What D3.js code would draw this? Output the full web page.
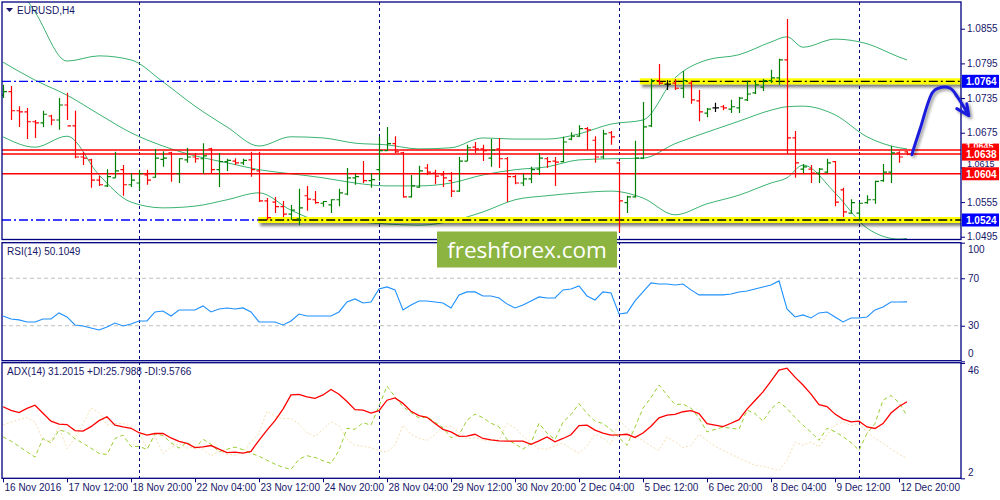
<!DOCTYPE html>
<html><head><meta charset="utf-8">
<script src="https://cdn.jsdelivr.net/npm/d3@7"></script>
<style>
body{margin:0;background:#fff;}
svg{display:block;font-family:"Liberation Sans",Arial,sans-serif;}
</style>
</head><body>
<svg id="c" width="1000" height="500"></svg>
<script>
// ---------------- DATA ----------------
const symbolLabel = "EURUSD,H4";
const rsiLabel = "RSI(14) 50.1049";
const adxLabel = "ADX(14) 31.2015 +DI:25.7988 -DI:9.5766";
const watermark = "freshforex.com";

const tickIdx = [0,8,16,24,32,40,48,56,64,72,80,88,96,104,112];
const tickLabels = ["16 Nov 2016","17 Nov 12:00","18 Nov 20:00","22 Nov 04:00","23 Nov 12:00","24 Nov 20:00","28 Nov 04:00","29 Nov 12:00","30 Nov 20:00","2 Dec 04:00","5 Dec 12:00","6 Dec 20:00","8 Dec 04:00","9 Dec 12:00","12 Dec 20:00"];
const weekSeparators = [17,47,77,107];

const priceTicks = [1.0855,1.0795,1.0735,1.0675,1.0615,1.0555,1.0495];
const rsiTicks = [100,70,30,0];
const rsiLevels = [70,30];
const adxTicks = [46,2];

const open = [1.0740,1.0746,1.0713,1.0711,1.0694,1.0692,1.0704,1.0697,1.0723,1.0687,
1.0633,1.0628,1.0593,1.0583,1.0597,1.0611,1.0585,1.0588,1.0602,1.0598,
1.0629,1.0640,1.0604,1.0628,1.0633,1.0630,1.0647,1.0611,1.0625,1.0626,
1.0623,1.0628,1.0609,1.0557,1.0555,1.0547,1.0534,1.0526,1.0566,1.0559,
1.0553,1.0550,1.0559,1.0569,1.0597,1.0604,1.0592,1.0611,1.0644,1.0656,
1.0640,1.0564,1.0581,1.0614,1.0605,1.0602,1.0592,1.0574,1.0626,1.0650,
1.0647,1.0631,1.0647,1.0630,1.0599,1.0588,1.0595,1.0612,1.0630,1.0626,
1.0625,1.0664,1.0669,1.0682,1.0662,1.0633,1.0675,1.0623,1.0554,1.0564,
1.0631,1.0687,1.0765,1.0759,1.0761,1.0752,1.0761,1.0730,1.0709,1.0718,
1.0720,1.0716,1.0718,1.0732,1.0744,1.0754,1.0765,1.0770,1.0801,1.0666,
1.0612,1.0612,1.0605,1.0607,1.0625,1.0576,1.0536,1.0536,1.0554,1.0559,
1.0592,1.0607,1.0640,1.0642];
const high = [1.0758,1.0756,1.0721,1.0718,1.0697,1.0713,1.0706,1.0735,1.0744,1.0713,
1.0642,1.0630,1.0600,1.0612,1.0642,1.0619,1.0605,1.0611,1.0611,1.0647,
1.0643,1.0642,1.0631,1.0649,1.0640,1.0657,1.0649,1.0640,1.0630,1.0631,
1.0630,1.0642,1.0642,1.0562,1.0564,1.0557,1.0550,1.0578,1.0583,1.0574,
1.0557,1.0560,1.0578,1.0614,1.0604,1.0626,1.0605,1.0668,1.0685,1.0669,
1.0642,1.0602,1.0618,1.0621,1.0611,1.0609,1.0607,1.0633,1.0654,1.0659,
1.0654,1.0664,1.0666,1.0633,1.0602,1.0604,1.0616,1.0640,1.0633,1.0633,
1.0668,1.0676,1.0688,1.0685,1.0669,1.0680,1.0678,1.0625,1.0566,1.0661,
1.0728,1.0768,1.0794,1.0766,1.0768,1.0782,1.0765,1.0749,1.0718,1.0727,
1.0723,1.0732,1.0737,1.0765,1.0766,1.0768,1.0784,1.0803,1.0872,1.0678,
1.0621,1.0619,1.0614,1.0630,1.0626,1.0580,1.0560,1.0554,1.0567,1.0592,
1.0621,1.0652,1.0643,1.0643];
const low = [1.0735,1.0697,1.0685,1.0664,1.0666,1.0685,1.0688,1.0680,1.0697,1.0631,
1.0619,1.0580,1.0583,1.0581,1.0597,1.0566,1.0581,1.0576,1.0585,1.0597,
1.0616,1.0590,1.0588,1.0623,1.0623,1.0604,1.0604,1.0581,1.0609,1.0619,
1.0619,1.0599,1.0555,1.0524,1.0536,1.0529,1.0524,1.0515,1.0540,1.0552,
1.0547,1.0536,1.0548,1.0567,1.0585,1.0588,1.0580,1.0592,1.0644,1.0640,
1.0563,1.0563,1.0580,1.0602,1.0586,1.0581,1.0564,1.0573,1.0626,1.0640,
1.0626,1.0616,1.0614,1.0555,1.0586,1.0583,1.0588,1.0602,1.0614,1.0583,
1.0624,1.0662,1.0668,1.0645,1.0623,1.0630,1.0654,1.0503,1.0536,1.0563,
1.0630,1.0685,1.0758,1.0749,1.0749,1.0735,1.0725,1.0695,1.0702,1.0711,
1.0714,1.0709,1.0709,1.0730,1.0742,1.0747,1.0761,1.0758,1.0638,1.0597,
1.0605,1.0588,1.0588,1.0605,1.0548,1.0529,1.0535,1.0522,1.0552,1.0552,
1.0590,1.0588,1.0623,1.0636];
const close = [1.0746,1.0713,1.0711,1.0694,1.0692,1.0707,1.0697,1.0723,1.0687,1.0633,
1.0631,1.0593,1.0585,1.0599,1.0609,1.0585,1.0593,1.0604,1.0593,1.0631,
1.0631,1.0604,1.0630,1.0633,1.0630,1.0635,1.0611,1.0625,1.0627,1.0623,
1.0627,1.0611,1.0557,1.0528,1.0547,1.0534,1.0541,1.0545,1.0560,1.0554,
1.0556,1.0559,1.0571,1.0597,1.0599,1.0592,1.0594,1.0644,1.0656,1.0642,
1.0564,1.0583,1.0609,1.0607,1.0600,1.0597,1.0574,1.0626,1.0649,1.0647,
1.0644,1.0645,1.0630,1.0599,1.0588,1.0595,1.0611,1.0631,1.0625,1.0624,
1.0659,1.0669,1.0682,1.0680,1.0633,1.0673,1.0668,1.0557,1.0564,1.0631,
1.0685,1.0765,1.0761,1.0759,1.0752,1.0765,1.0732,1.0711,1.0716,1.0718,
1.0718,1.0720,1.0735,1.0742,1.0758,1.0765,1.0770,1.0801,1.0666,1.0623,
1.0616,1.0605,1.0612,1.0623,1.0555,1.0538,1.0554,1.0553,1.0559,1.0591,
1.0607,1.0640,1.0633,1.0638];

// Bollinger bands at these bar indices
const bbIdx = [0,4,8,12,16,20,24,28,32,36,40,44,48,52,56,60,64,68,72,76,80,84,88,92,96,98,100,104,108,112,113];
const bbUpper = [1.0967,1.0884,1.0799,1.0808,1.0801,1.0763,1.0721,1.0685,1.0652,1.0668,1.0666,1.0657,1.0654,1.0647,1.0649,1.0666,1.0664,1.0664,1.0673,1.0690,1.0697,1.0770,1.0801,1.0810,1.0832,1.0841,1.0823,1.0837,1.0829,1.0806,1.0801];
const bbMiddle = [1.0797,1.0766,1.0740,1.0707,1.0675,1.0652,1.0635,1.0623,1.0611,1.0604,1.0597,1.0588,1.0583,1.0583,1.0588,1.0602,1.0611,1.0616,1.0628,1.0630,1.0631,1.0656,1.0676,1.0695,1.0714,1.0720,1.0721,1.0706,1.0668,1.0649,1.0647];
const bbLower = [1.0668,1.0650,1.0669,1.0602,1.0555,1.0545,1.0548,1.0559,1.0571,1.0541,1.0522,1.0521,1.0517,1.0515,1.0522,1.0538,1.0559,1.0566,1.0571,1.0574,1.0562,1.0533,1.0552,1.0567,1.0588,1.0597,1.0619,1.0571,1.0510,1.0491,1.0492];

const rsi = [38.2,35.7,34.9,33.2,33.2,35.7,35.7,40.8,37.4,30.6,
29.8,28.1,26.4,28.9,32.3,29.8,31.5,34.0,34.0,41.6,
42.4,38.2,43.3,43.3,43.3,46.7,41.6,44.1,45.0,44.1,
45.0,41.6,33.2,33.2,33.2,30.6,34.0,39.9,38.2,38.2,
38.2,38.2,41.6,50.0,52.6,49.2,50.0,61.0,62.7,60.2,
43.3,47.5,50.9,50.9,50.0,49.2,45.0,56.0,58.5,58.5,
55.1,55.1,53.4,48.4,45.0,47.5,50.9,54.3,53.4,53.4,
60.2,61.0,63.5,55.1,51.7,58.5,57.6,39.9,40.8,50.9,
58.5,66.1,65.2,65.2,64.4,65.2,60.2,56.0,56.0,56.0,
56.0,56.8,58.5,59.3,61.0,62.7,64.4,67.8,44.1,37.4,
39.1,36.5,40.8,41.6,37.4,33.2,36.5,36.5,37.4,43.3,
45.8,50.0,50.0,50.1];

const adx = [29.3,27.9,27.1,28.7,29.9,26.8,23.8,22.7,22.5,20.2,
20.0,21.7,24.0,25.5,22.3,21.6,21.1,19.4,18.5,19.1,
19.1,17.4,16.1,15.3,13.7,14.0,14.5,13.1,11.8,12.0,
11.6,12.3,16.5,20.4,24.0,28.4,33.8,34.0,33.1,32.5,
33.8,35.9,34.1,31.3,28.2,28.0,26.9,27.8,31.8,32.7,
30.6,27.6,25.9,25.3,22.9,20.7,19.7,18.0,18.1,18.8,
17.2,16.7,16.3,16.2,16.2,16.2,15.0,16.3,17.8,15.9,
17.2,18.6,22.1,22.3,20.4,19.2,18.5,18.6,18.8,17.6,
19.3,21.9,25.1,26.1,26.4,27.4,27.8,26.7,22.9,22.3,
21.7,23.0,24.4,28.4,31.7,35.0,39.1,43.3,44.0,40.6,
37.6,34.1,30.1,29.4,26.5,24.6,23.5,23.8,21.6,21.0,
22.9,26.9,29.4,31.2];
const plusDI = [17.8,16.2,14.2,12.1,10.1,17.2,15.5,20.4,19.7,17.1,
15.4,13.5,11.5,11.1,17.2,18.5,14.1,14.2,13.0,19.0,
18.3,15.6,13.5,15.8,13.5,16.9,15.0,12.1,13.1,13.9,
12.9,11.6,10.4,8.9,7.4,6.2,5.4,9.3,10.6,10.0,
8.7,7.7,12.7,21.1,20.7,23.2,22.3,29.5,37.2,33.1,
29.3,27.1,25.0,25.5,23.4,21.3,17.5,18.5,24.2,26.5,
25.1,23.0,21.7,16.7,15.2,13.1,15.4,23.0,19.2,16.8,
23.4,26.3,30.5,26.8,23.8,22.9,20.6,17.5,14.6,21.5,
28.8,32.8,37.6,33.8,30.2,30.3,28.8,25.0,19.7,20.7,
21.5,21.1,20.7,28.0,26.7,23.8,28.4,31.1,28.7,25.2,
22.3,19.6,16.5,21.1,19.8,17.9,15.6,12.7,19.1,22.9,
31.8,33.6,30.9,25.8];
const minusDI = [22.3,23.4,24.4,25.2,23.5,16.5,16.5,21.5,13.3,17.3,
22.7,28.8,27.1,22.3,22.9,22.9,21.7,19.4,13.4,17.8,
11.5,13.9,15.2,13.5,13.9,13.1,10.6,12.3,11.2,10.8,
11.9,15.8,19.2,27.6,25.7,24.8,24.8,22.7,19.4,18.1,
20.6,23.6,22.0,16.9,14.6,14.2,13.7,12.5,12.1,14.6,
22.3,18.8,17.2,16.5,18.8,21.7,21.9,19.6,17.1,17.5,
16.5,16.5,16.7,22.9,21.3,18.1,15.4,13.3,13.1,14.4,
15.4,13.3,11.6,14.4,18.8,17.3,15.0,24.4,21.1,18.6,
16.3,14.3,12.7,17.8,15.9,13.7,14.5,18.8,16.5,14.2,
12.7,11.2,9.7,8.3,7.0,6.6,5.8,5.0,8.9,15.8,
14.6,15.9,13.9,18.5,22.3,23.5,22.1,22.9,19.7,17.2,
15.3,13.3,11.2,9.6];

// horizontal levels
const redLevels = [1.0645,1.0638,1.0604];
const redLabels = ["1.0645","1.0638","1.0604"];
const zoneLevels = [1.0764,1.0524];
const zoneLabels = ["1.0764","1.0524"];
const zoneStartIdx = [79.6,31.9];   // bar index where the yellow highlight starts
// forecast arrow path (bar index, price)
const arrowIdx = [113.6,114.6,116.2,116.9,118.4,119.3,120.6];
const arrowPrice = [1.0637,1.0680,1.0745,1.0752,1.0752,1.0737,1.0708];

// ---------------- CHART ----------------
const svg = d3.select("#c");
const navy = "#000080";
const txt = "#16166a";
const plotL = 2, plotR = 961;
const mainTop = 2, mainBot = 239.5, rsiTop = 242.7, rsiBot = 360.7, adxTop = 362.7, adxBot = 478.3;

const x = d3.scaleLinear().domain([0,113]).range([3,907]);
const yP = d3.scaleLinear().domain([1.0524,1.0764]).range([220,81.3]);
const yR = d3.scaleLinear().domain([0,100]).range([361.3,242.7]);
const yA = d3.scaleLinear().domain([2,46]).range([478.3,363]);

const defs = svg.append("defs");
[["cMain",mainTop,mainBot],["cRsi",rsiTop,rsiBot],["cAdx",adxTop,adxBot]].forEach(([id,t,b])=>{
  defs.append("clipPath").attr("id",id).append("rect")
    .attr("x",plotL).attr("y",t).attr("width",plotR-plotL).attr("height",b-t);
});
// value-box area clip (so the partly covered tick/box texts stay partly hidden)
const f1 = defs.append("filter").attr("id","shadow").attr("x","-5%").attr("y","-100%").attr("width","110%").attr("height","400%");
f1.append("feDropShadow").attr("dx",2).attr("dy",3).attr("stdDeviation",1.8).attr("flood-color","#000").attr("flood-opacity",0.5);
const f2 = defs.append("filter").attr("id","ashadow").attr("x","-30%").attr("y","-30%").attr("width","160%").attr("height","160%");
f2.append("feDropShadow").attr("dx",2).attr("dy",2).attr("stdDeviation",1.5).attr("flood-color","#000").attr("flood-opacity",0.4);

// week separators (all panels)
const sepG = svg.append("g");
sepG.selectAll("line").data(weekSeparators).join("line")
  .attr("x1",d=>Math.round(x(d))+0.5).attr("x2",d=>Math.round(x(d))+0.5)
  .attr("y1",mainTop).attr("y2",adxBot)
  .attr("stroke",navy).attr("stroke-width",1).attr("stroke-dasharray","3,3");

// ---- main panel ----
const main = svg.append("g").attr("clip-path","url(#cMain)");
const bbG = main.append("g");
[bbUpper,bbMiddle,bbLower].forEach(arr=>{
  bbG.append("path")
    .attr("d", d3.line().curve(d3.curveMonotoneX).x((d,i)=>x(bbIdx[i])).y(d=>yP(d))(arr))
    .attr("fill","none").attr("stroke","#3cb371").attr("stroke-width",1);
});

// red horizontal levels
main.selectAll("line.red").data(redLevels).join("line").attr("class","red")
  .attr("x1",plotL).attr("x2",plotR).attr("y1",d=>yP(d)).attr("y2",d=>yP(d))
  .attr("stroke","#ff0000").attr("stroke-width",1.5);

// zones: blue dash-dot then yellow highlighted part
zoneLevels.forEach((lv,i)=>{
  const yy = yP(lv), xs = x(zoneStartIdx[i]);
  main.append("line").attr("x1",plotL).attr("x2",xs).attr("y1",yy).attr("y2",yy)
    .attr("stroke","#0000ff").attr("stroke-width",1.3).attr("stroke-dasharray","9,3,2,3");
  main.append("rect").attr("x",xs).attr("y",yy-3).attr("width",plotR-xs).attr("height",6)
    .attr("fill","#ffff00").attr("filter","url(#shadow)");
  main.append("line").attr("x1",xs).attr("x2",plotR).attr("y1",yy).attr("y2",yy)
    .attr("stroke","#000").attr("stroke-width",1.3).attr("stroke-dasharray","9,3,2,3");
});

// OHLC bars
const bars = main.append("g");
d3.range(open.length).forEach(i=>{
  const cx = Math.round(x(i))+0.5;
  const col = close[i]>open[i] ? "#008000" : (close[i]<open[i] ? "#ff0000" : "#000000");
  const g = bars.append("g").attr("stroke",col).attr("stroke-width",1.2);
  g.append("line").attr("x1",cx).attr("x2",cx).attr("y1",yP(high[i])).attr("y2",yP(low[i]));
  g.append("line").attr("x1",cx-3).attr("x2",cx).attr("y1",yP(open[i])).attr("y2",yP(open[i]));
  g.append("line").attr("x1",cx).attr("x2",cx+3.5).attr("y1",yP(close[i])).attr("y2",yP(close[i]));
});

// ---- RSI panel ----
const rsiG = svg.append("g").attr("clip-path","url(#cRsi)");
rsiG.selectAll("line.lv").data(rsiLevels).join("line").attr("class","lv")
  .attr("x1",plotL).attr("x2",plotR).attr("y1",d=>yR(d)).attr("y2",d=>yR(d))
  .attr("stroke","#c0c0c0").attr("stroke-width",1).attr("stroke-dasharray","4,3");
rsiG.append("path").attr("d",d3.line().x((d,i)=>x(i)).y(d=>yR(d))(rsi))
  .attr("fill","none").attr("stroke","#1e90ff").attr("stroke-width",1.1);

// ---- ADX panel ----
const adxG = svg.append("g").attr("clip-path","url(#cAdx)");
adxG.append("path").attr("d",d3.line().x((d,i)=>x(i)).y(d=>yA(d))(minusDI))
  .attr("fill","none").attr("stroke","#f5deb3").attr("stroke-width",1).attr("stroke-dasharray","2,2");
adxG.append("path").attr("d",d3.line().x((d,i)=>x(i)).y(d=>yA(d))(plusDI))
  .attr("fill","none").attr("stroke","#9acd32").attr("stroke-width",1).attr("stroke-dasharray","4,3");
adxG.append("path").attr("d",d3.line().x((d,i)=>x(i)).y(d=>yA(d))(adx))
  .attr("fill","none").attr("stroke","#ff0000").attr("stroke-width",1.3);

// ---- frames ----
[[mainTop,mainBot],[rsiTop,rsiBot],[adxTop,adxBot]].forEach(([t,b])=>{
  svg.append("rect").attr("x",plotL).attr("y",t).attr("width",plotR-plotL).attr("height",b-t)
    .attr("fill","none").attr("stroke",navy).attr("stroke-width",1.3);
});

// ---- axes ----
const axFont = g => g.selectAll("text").attr("font-size","10px").attr("fill",txt)
  .attr("font-family","'Liberation Sans',Arial,sans-serif");
const pAx = svg.append("g").attr("transform",`translate(${plotR},0)`)
  .call(d3.axisRight(yP).tickValues(priceTicks).tickFormat(d3.format(".4f")).tickSize(4).tickPadding(2));
pAx.select(".domain").remove();
pAx.selectAll("line").attr("stroke",navy);
axFont(pAx);
// the 1.0615 tick label sits partly behind the 1.0604 box, as in the reference: nudge it up
pAx.selectAll("text").attr("dy",d=> d===1.0615 ? "-0.05em" : "0.32em").attr("font-size",d=> d===1.0615 ? "9px" : "10px");

const rAx = svg.append("g").attr("transform",`translate(${plotR},0)`)
  .call(d3.axisRight(yR).tickValues(rsiTicks).tickSize(4).tickPadding(3));
rAx.select(".domain").remove();
rAx.selectAll("line").attr("stroke",navy);
axFont(rAx);
rAx.selectAll("text").attr("dy",d=> d===100 ? "1.0em" : (d===0 ? "-0.5em" : "0.32em"));

const aAx = svg.append("g").attr("transform",`translate(${plotR},0)`)
  .call(d3.axisRight(yA).tickValues(adxTicks).tickSize(4).tickPadding(3));
aAx.select(".domain").remove();
aAx.selectAll("line").attr("stroke",navy);
axFont(aAx);
aAx.selectAll("text").attr("dy",d=> d===46 ? "1.0em" : "-0.3em");

const xAx = svg.append("g").attr("transform",`translate(0,${adxBot})`)
  .call(d3.axisBottom(x).tickValues(tickIdx).tickFormat((d,i)=>tickLabels[i]).tickSize(4).tickPadding(2));
xAx.select(".domain").remove();
xAx.selectAll("line").attr("stroke",navy);
axFont(xAx);
xAx.selectAll("text").attr("text-anchor","start").attr("dx","1");

// right-side value boxes
const boxes = [
  {v:redLevels[0], t:redLabels[0], c:"#ff0000", fs:9, dy:"-0.15em"},
  {v:redLevels[1], t:redLabels[1], c:"#ff0000", fs:10, dy:"0.4em"},
  {v:redLevels[2], t:redLabels[2], c:"#ff0000", fs:10, dy:"0.4em"},
  {v:zoneLevels[0], t:zoneLabels[0], c:"#0000ff", fs:10, dy:"0.35em"},
  {v:zoneLevels[1], t:zoneLabels[1], c:"#0000ff", fs:10, dy:"0.35em"}
];
const bx = svg.append("g");
boxes.forEach(b=>{
  const yy = yP(b.v);
  bx.append("rect").attr("x",plotR+1).attr("y",yy-6.5).attr("width",37).attr("height",13).attr("fill",b.c);
  bx.append("text").attr("x",plotR+5).attr("y",yy).attr("dy",b.dy)
    .attr("font-size",b.fs+"px").attr("font-weight","bold").attr("fill","#fff").text(b.t);
});

// titles
svg.append("path").attr("d","M6,8 L13,8 L9.5,12 Z").attr("fill",txt);
svg.append("text").attr("x",17).attr("y",14).attr("font-size","10px").attr("fill",txt).text(symbolLabel);
svg.append("text").attr("x",7).attr("y",rsiTop+12).attr("font-size","10px").attr("fill",txt).text(rsiLabel);
svg.append("text").attr("x",7).attr("y",adxTop+12).attr("font-size","10px").attr("fill",txt).text(adxLabel);

// forecast arrow
const arrowPts = arrowIdx.map((d,i)=>[x(d),yP(arrowPrice[i])]);
const aG = svg.append("g").attr("filter","url(#ashadow)");
aG.append("path").attr("d",d3.line().curve(d3.curveCatmullRom)(arrowPts))
  .attr("fill","none").attr("stroke","#1c1cdc").attr("stroke-width",3).attr("stroke-linecap","round");
const tip = arrowPts[arrowPts.length-1];
aG.append("path").attr("d",`M${tip[0]-11},${tip[1]-5} L${tip[0]+1},${tip[1]+2} L${tip[0]-1},${tip[1]-10}`)
  .attr("fill","none").attr("stroke","#1c1cdc").attr("stroke-width",3).attr("stroke-linecap","round").attr("stroke-linejoin","round");

// watermark
svg.append("rect").attr("x",437).attr("y",231.5).attr("width",180).attr("height",36).attr("fill","#8cb440");
svg.append("text").attr("x",527).attr("y",257.5).attr("text-anchor","middle")
  .attr("font-family","'Open Sans',sans-serif").attr("font-size","22.5px").attr("fill","#fff").text(watermark);
</script>
</body></html>
